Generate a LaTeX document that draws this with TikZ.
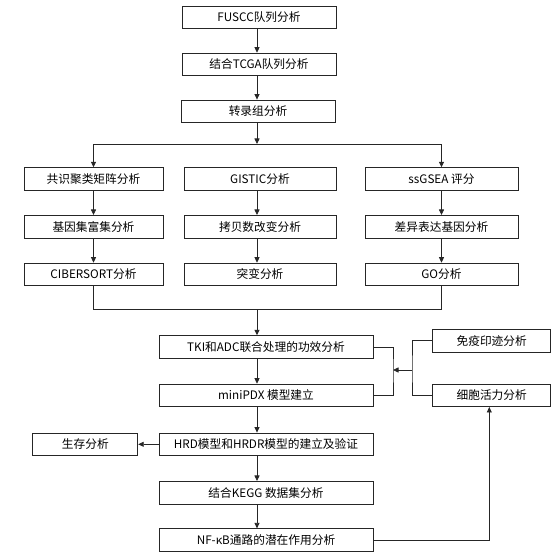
\documentclass[tikz,border=0pt]{standalone}
\usepackage{fontspec}
\setmainfont{Noto Sans CJK SC}
\usepackage{tikz}
\usetikzlibrary{arrows.meta,positioning,calc}
\tikzstyle{stepbox} = [rectangle, minimum height=22.6pt, inner sep=1pt, text centered, draw=black!85, line width=0.8pt, font=\fontsize{11.7}{13}\selectfont]
\tikzstyle{line} = [line width=0.8pt, draw=black!85]
\tikzstyle{arrow} = [line, -{Triangle[length=5.5pt,width=5pt]}]

\begin{document}
\begin{tikzpicture}[x=1pt, y=-1pt, node distance=24pt]
\useasboundingbox (0,0) rectangle (558,556);

% Cohort part
\node[stepbox, minimum width=154pt] (fuscc) at (259,17.5) {FUSCC队列分析};
\node[stepbox, minimum width=154pt, below=23.5pt of fuscc] (tcga) {结合TCGA队列分析};
\node[stepbox, minimum width=154pt, below=23.5pt of tcga, xshift=-1pt] (rna) {转录组分析};

\draw[arrow] (fuscc.south -| rna.south) ++(-1,0) -- ($(tcga.north)+(-2,0)$);
\draw[arrow] ($(tcga.south)+(-2,0)$) -- ($(rna.north)+(-1,0)$);

% Three branches
\node[stepbox, minimum width=139pt] (cons) at (93.5,179) {共识聚类矩阵分析};
\node[stepbox, minimum width=139pt, below=24.3pt of cons] (gsea) {基因集富集分析};
\node[stepbox, minimum width=139pt, below=24.3pt of gsea] (cibersort) {CIBERSORT分析};

\node[stepbox, minimum width=152pt] (gistic) at (260,179) {GISTIC分析};
\node[stepbox, minimum width=152pt, below=24.3pt of gistic] (cnv) {拷贝数改变分析};
\node[stepbox, minimum width=152pt, below=24.3pt of cnv] (mut) {突变分析};

\node[stepbox, minimum width=153pt] (ssgsea) at (441.5,179) {ssGSEA 评分};
\node[stepbox, minimum width=153pt, below=24.3pt of ssgsea] (deg) {差异表达基因分析};
\node[stepbox, minimum width=153pt, below=24.3pt of deg] (go) {GO分析};

\coordinate (split) at (257,144);
\coordinate (merge) at (257,309.3);

\draw[arrow] (rna.south -| split) -- (split);
\draw[arrow] (split) -| (cons.north);
\draw[arrow] (split) -| (ssgsea.north);
\draw[arrow] (cons) -- (gsea);
\draw[arrow] (gsea) -- (cibersort);
\draw[arrow] (gistic.south -| split) -- (cnv.north -| split);
\draw[arrow] (cnv.south -| split) -- (mut.north -| split);
\draw[arrow] (ssgsea) -- (deg);
\draw[arrow] (deg) -- (go);
\draw[line] (cibersort.south) |- (merge);
\draw[line] (go.south) |- (merge);

% Experiments and models
\node[stepbox, minimum width=214pt] (tki) at (266,347) {TKI和ADC联合处理的功效分析};
\node[stepbox, minimum width=214pt, below=25pt of tki] (pdx) {miniPDX 模型建立};
\node[stepbox, minimum width=214pt, below=25.5pt of pdx] (hrd) {HRD模型和HRDR模型的建立及验证};
\node[stepbox, minimum width=214pt, below=25pt of hrd] (kegg) {结合KEGG 数据集分析};
\node[stepbox, minimum width=214pt, below=24pt of kegg] (nfkb) {NF-κB通路的潜在作用分析};

\node[stepbox, minimum width=105pt, left=20.4pt of hrd] (surv) {生存分析};
\node[stepbox, minimum width=118pt] (wb) at (491.7,340.8) {免疫印迹分析};
\node[stepbox, minimum width=118pt] (via) at (491.7,395.3) {细胞活力分析};

\draw[arrow] (merge) -- (tki.north -| merge);
\draw[arrow] (tki.south -| merge) -- (pdx.north -| merge);
\draw[arrow] (pdx.south -| merge) -- (hrd.north -| merge);
\draw[arrow] (hrd.south -| merge) -- (kegg.north -| merge);
\draw[arrow] (kegg.south -| merge) -- (nfkb.north -| merge);
\draw[arrow] (hrd) -- (surv);

\coordinate (jl) at (393,370);
\coordinate (jr) at (412,370);
\draw[line] (tki.east) -| (jl) |- (pdx.east);
\draw[line] (wb.west) -| (jr) |- (via.west);
\draw[arrow] (jr) -- (jl);
\draw[arrow] (nfkb.east) -| ($(via.south)+(-2.4,0)$);
\end{tikzpicture}
\end{document}
